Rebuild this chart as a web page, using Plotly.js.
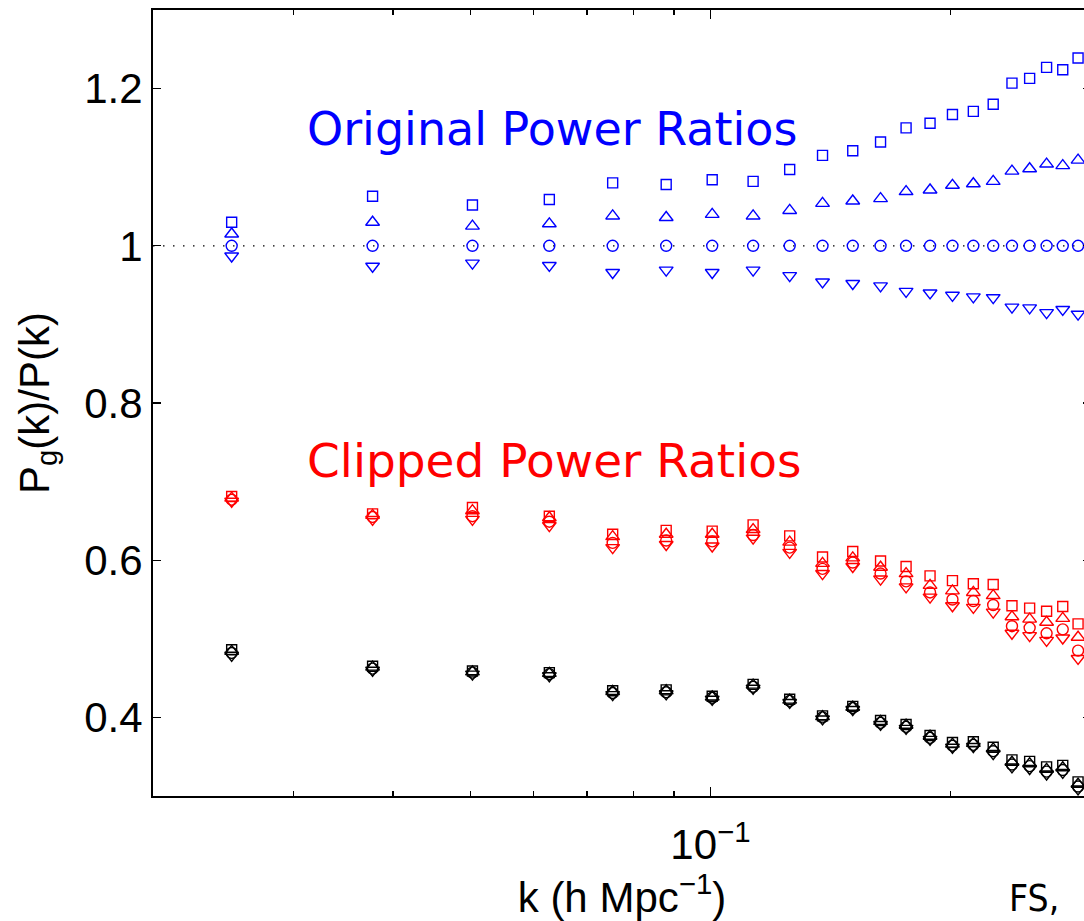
<!DOCTYPE html>
<html>
<head>
<meta charset="utf-8">
<script src="https://cdn.plot.ly/plotly-3.0.1.min.js"></script>
<style>
html, body { margin: 0; padding: 0; overflow: hidden; background: #fff; }
#chart { width: 1100px; height: 921px; }
</style>
</head>
<body>
<div id="chart"></div>
<script>
// wavenumbers k (h/Mpc)
const kVals = [0.0251, 0.0377, 0.0503, 0.0628, 0.0754, 0.0880, 0.1005, 0.1131, 0.1257, 0.1382, 0.1508,
               0.1634, 0.1759, 0.1885, 0.2011, 0.2136, 0.2262, 0.2388, 0.2513, 0.2639, 0.2765, 0.2890];

// Original power ratios (blue)
const origSquare = [1.030, 1.063, 1.052, 1.059, 1.080, 1.078, 1.084, 1.082, 1.097, 1.115, 1.121, 1.132, 1.150, 1.156,
                    1.167, 1.171, 1.180, 1.207, 1.213, 1.227, 1.224, 1.239];
const origUp     = [1.015, 1.030, 1.025, 1.028, 1.038, 1.036, 1.040, 1.038, 1.045, 1.054, 1.057, 1.060, 1.069, 1.071,
                    1.077, 1.079, 1.082, 1.095, 1.098, 1.104, 1.102, 1.109];
const origCircle = [1.000, 1.000, 1.000, 1.000, 1.000, 1.000, 1.000, 1.000, 1.000, 1.000, 1.000, 1.000, 1.000, 1.000,
                    1.000, 1.000, 1.000, 1.000, 1.000, 1.000, 1.000, 1.000];
const origDown   = [0.987, 0.974, 0.978, 0.975, 0.966, 0.969, 0.966, 0.969, 0.962, 0.954, 0.952, 0.949, 0.942, 0.940,
                    0.937, 0.935, 0.934, 0.922, 0.921, 0.915, 0.919, 0.913];

// Clipped power ratios (red)
const clipSquare = [0.681, 0.659, 0.667, 0.656, 0.633, 0.638, 0.637, 0.645, 0.631, 0.604, 0.611, 0.599, 0.592, 0.580,
                    0.574, 0.570, 0.569, 0.542, 0.539, 0.535, 0.541, 0.519];
const clipUp     = [0.679, 0.657, 0.663, 0.654, 0.630, 0.633, 0.633, 0.639, 0.623, 0.596, 0.603, 0.591, 0.583, 0.568,
                    0.561, 0.559, 0.555, 0.528, 0.525, 0.521, 0.526, 0.502];
const clipCircle = [0.677, 0.655, 0.656, 0.649, 0.622, 0.625, 0.624, 0.632, 0.616, 0.589, 0.597, 0.583, 0.573, 0.559,
                    0.550, 0.548, 0.543, 0.516, 0.514, 0.507, 0.512, 0.485];
const clipDown   = [0.675, 0.652, 0.652, 0.644, 0.616, 0.620, 0.618, 0.628, 0.610, 0.583, 0.592, 0.576, 0.566, 0.553,
                    0.542, 0.540, 0.534, 0.507, 0.504, 0.498, 0.501, 0.475];

// Black ratios
const blkSquare = [0.486, 0.465, 0.459, 0.457, 0.434, 0.435, 0.427, 0.442, 0.423, 0.402, 0.414, 0.396, 0.391, 0.377,
                   0.368, 0.369, 0.362, 0.346, 0.344, 0.337, 0.339, 0.318];
const blkUp     = [0.484, 0.464, 0.458, 0.456, 0.433, 0.434, 0.426, 0.441, 0.422, 0.401, 0.413, 0.395, 0.390, 0.376,
                   0.366, 0.367, 0.360, 0.343, 0.341, 0.334, 0.336, 0.315];
const blkCircle = [0.482, 0.462, 0.457, 0.455, 0.431, 0.432, 0.425, 0.439, 0.421, 0.400, 0.412, 0.393, 0.388, 0.374,
                   0.364, 0.365, 0.357, 0.340, 0.338, 0.331, 0.333, 0.312];
const blkDown   = [0.479, 0.460, 0.455, 0.453, 0.429, 0.430, 0.423, 0.437, 0.419, 0.398, 0.410, 0.391, 0.386, 0.372,
                   0.362, 0.363, 0.354, 0.337, 0.335, 0.328, 0.330, 0.309];

const yTickVals = [0.4, 0.6, 0.8, 1, 1.2];
const yTickText = ['0.4', '0.6', '0.8', '1', '1.2'];
const xTickVals = [0.1];
const xTickText = ['10<sup>\u22121</sup>'];
const xMinorVals = [0.03, 0.04, 0.05, 0.06, 0.07, 0.08, 0.09, 0.2, 0.3];

const symbols = ['square-open', 'triangle-up-open', 'circle-open', 'triangle-down-open'];
const sizes = {'square-open': 10, 'triangle-up-open': 12, 'circle-open': 11, 'triangle-down-open': 12};

function series(y, color, sym) {
  return {
    x: kVals, y: y, type: 'scatter', mode: 'markers', showlegend: false,
    marker: {symbol: sym, size: sizes[sym], color: color, line: {color: color, width: 1.4}},
    hoverinfo: 'x+y'
  };
}

const data = [];
[[blkSquare, blkUp, blkCircle, blkDown, '#000000'],
 [clipSquare, clipUp, clipCircle, clipDown, '#ff0000'],
 [origSquare, origUp, origCircle, origDown, '#0000ff']].forEach(g => {
  for (let i = 0; i < 4; i++) data.push(series(g[i], g[4], symbols[i]));
});

const axisFont = {family: "'Liberation Sans', Arial, Helvetica, sans-serif", size: 42, color: '#000'};

const layout = {
  width: 1100, height: 921,
  margin: {l: 153, r: 9, t: 10, b: 125, pad: 0},
  paper_bgcolor: '#fff', plot_bgcolor: '#fff',
  showlegend: false,
  font: axisFont,
  xaxis: {
    type: 'log',
    range: [Math.log10(0.02), Math.log10(0.3)],
    tickmode: 'array', tickvals: xTickVals, ticktext: xTickText,
    ticks: 'inside', ticklen: 9, tickwidth: 1.3, tickcolor: '#000',
    minor: {tickmode: 'array', tickvals: xMinorVals, ticks: 'inside', ticklen: 5, tickwidth: 1.3, tickcolor: '#000', showgrid: false},
    showline: true, linecolor: '#000', linewidth: 2, mirror: 'ticks',
    showgrid: false, zeroline: false,
    tickfont: axisFont, ticklabelstandoff: 11,
    title: {text: 'k (h Mpc<sup>\u22121</sup>)', font: axisFont, standoff: 8}
  },
  yaxis: {
    range: [0.3, 1.3],
    tickmode: 'array', tickvals: yTickVals, ticktext: yTickText,
    ticks: 'inside', ticklen: 8, tickwidth: 1.3, tickcolor: '#000',
    showline: true, linecolor: '#000', linewidth: 2, mirror: 'ticks',
    showgrid: false, zeroline: false,
    tickfont: axisFont,
    title: {text: 'P<sub>g</sub>(k)/P(k)', font: axisFont, standoff: 22}
  },
  shapes: [{
    type: 'line', xref: 'paper', x0: 0, x1: 1, yref: 'y', y0: 1, y1: 1,
    line: {color: '#000', width: 1.2, dash: '1.5px,8.5px'}, layer: 'below'
  }],
  annotations: [
    {text: 'Original Power Ratios', xref: 'x', yref: 'y', x: Math.log10(0.031), y: 1.148,
     xanchor: 'left', yanchor: 'middle', showarrow: false,
     font: {family: 'DejaVu Sans, sans-serif', size: 46, color: '#0000ff'}},
    {text: 'Clipped Power Ratios', xref: 'x', yref: 'y', x: Math.log10(0.031), y: 0.7265,
     xanchor: 'left', yanchor: 'middle', showarrow: false,
     font: {family: 'DejaVu Sans, sans-serif', size: 47, color: '#ff0000'}},
    {text: 'FS,', xref: 'paper', yref: 'paper', x: 0.9105, y: -0.1304,
     xanchor: 'left', yanchor: 'middle', showarrow: false,
     font: {family: "'Liberation Sans Narrow', 'DejaVu Sans Condensed', sans-serif", size: 37, color: '#000'}}
  ]
};

Plotly.newPlot('chart', data, layout, {displayModeBar: false, staticPlot: true});
</script>
</body>
</html>
